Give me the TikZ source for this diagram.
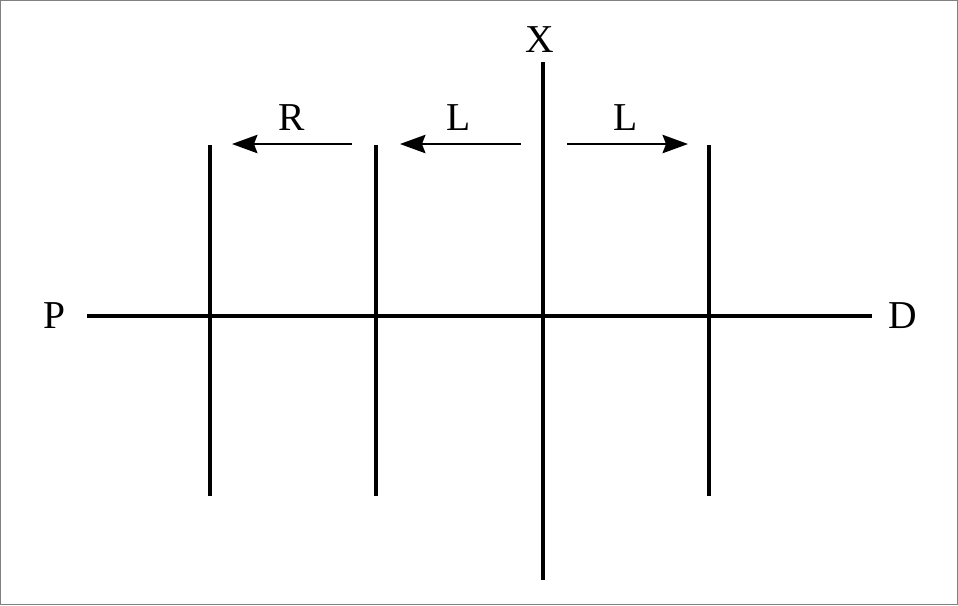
\documentclass[tikz,border=0pt]{standalone}
\usepackage{fontspec}
\setmainfont{Liberation Serif}
\usetikzlibrary{arrows.meta}

\begin{document}
\begin{tikzpicture}[x=0.02cm,y=-0.02cm,
        bar/.style={line width=1.9pt},
        shift arrow/.style={line width=1pt,-{Stealth[length=14.5pt,width=10.5pt,inset=2pt]}},
        every node/.style={font=\fontsize{22.5}{26}\selectfont,inner sep=1pt}]

    % frame
    \draw[gray,line width=0.6pt] (0.5,0.5) rectangle (957.5,604.5);

    % labels
    \node (P) at (54,316) {P};
    \node (D) at (903,316) {D};
    \node (X) at (540,40) {X};
    \node (R) at (292,118) {R};
    \node (L1) at (459,118) {L};
    \node (L2) at (626,118) {L};

    % axes
    \coordinate (pl) at (87,316);
    \coordinate (pr) at (872,316);
    \coordinate (xt) at (543,62);
    \coordinate (xb) at (543,580);
    \draw[bar] (pl) -- (pr);
    \draw[bar] (xt) -- (xb);

    % lines
    \foreach \name/\x in {a/210,b/376,c/709} {
        \coordinate (\name t) at (\x,145);
        \coordinate (\name b) at (\x,496);
        \draw[bar] (\name t) -- (\name b);
    }

    % shifts
    \coordinate (r1) at (352,144);
    \coordinate (r2) at (232,144);
    \coordinate (l1) at (521,144);
    \coordinate (l2) at (400,144);
    \coordinate (l3) at (567,144);
    \coordinate (l4) at (688,144);
    \draw[shift arrow] (r1) -- (r2);
    \draw[shift arrow] (l1) -- (l2);
    \draw[shift arrow] (l3) -- (l4);
\end{tikzpicture}
\end{document}
